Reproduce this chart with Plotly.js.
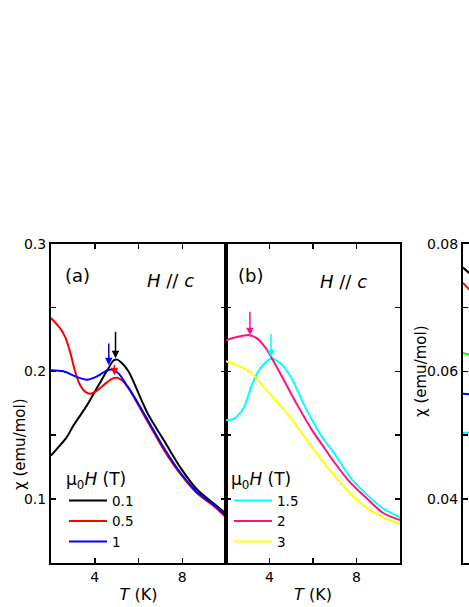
<!DOCTYPE html>
<html>
<head>
<meta charset="utf-8">
<script src="https://cdn.plot.ly/plotly-3.0.1.min.js"></script>
<style>
html,body{margin:0;padding:0;overflow:hidden;background:#fff;}
#chart{width:640px;height:607px;}
</style>
</head>
<body>
<div id="chart"></div>
<script>
// ---- Panel (a): H // c, low fields ----
var a_fields = ['0.1', '0.5', '1'];
var a_colors = ['#000000', '#ff0000', '#0000ff'];
var a_T_01 = [2.0, 2.41, 2.72, 3.03, 3.34, 3.64, 3.95, 4.26, 4.57, 4.87, 5.03, 5.26, 5.56, 6.15, 6.45, 7.16, 7.94, 8.7, 9.47, 10];
var a_chi_01 = [0.134, 0.142, 0.1485, 0.1577, 0.1656, 0.1734, 0.1826, 0.1917, 0.2009, 0.2088, 0.2093, 0.2062, 0.1996, 0.177, 0.166, 0.146, 0.124, 0.107, 0.096, 0.0885];
var a_T_05 = [2.0, 2.41, 2.65, 2.88, 3.11, 3.34, 3.57, 3.8, 4.1, 4.49, 4.8, 5.03, 5.33, 5.64, 6.42, 7.16, 7.94, 8.7, 9.47, 10];
var a_chi_05 = [0.242, 0.234, 0.227, 0.215, 0.1995, 0.189, 0.184, 0.1826, 0.185, 0.1905, 0.1944, 0.195, 0.1917, 0.1842, 0.1605, 0.1385, 0.119, 0.104, 0.094, 0.0855];
var a_T_1 = [2.0, 2.57, 3.18, 3.64, 4.1, 4.57, 4.8, 5.1, 5.41, 5.64, 6.42, 7.16, 7.94, 8.7, 9.47, 10];
var a_chi_1 = [0.201, 0.2002, 0.1957, 0.1936, 0.1962, 0.2009, 0.2015, 0.1983, 0.1905, 0.1848, 0.162, 0.140, 0.120, 0.105, 0.095, 0.087];

// ---- Panel (b): H // c, higher fields ----
var b_fields = ['1.5', '2', '3'];
var b_colors = ['#00ffff', '#ff1080', '#ffff00'];
var b_T_15 = [2.0, 2.37, 2.83, 3.2, 3.6, 4.07, 4.53, 5.0, 5.56, 6.02, 6.48, 6.95, 7.71, 8.5, 9.23, 10];
var b_chi_15 = [0.1617, 0.163, 0.172, 0.190, 0.203, 0.210, 0.206, 0.195, 0.175, 0.160, 0.147, 0.1365, 0.117, 0.103, 0.0925, 0.0855];
var b_T_2 = [2.0, 2.5, 3.06, 3.43, 3.84, 4.12, 4.67, 5.27, 5.92, 6.52, 6.93, 7.71, 8.5, 9.23, 10];
var b_chi_2 = [0.2245, 0.227, 0.2285, 0.226, 0.218, 0.210, 0.193, 0.174, 0.155, 0.140, 0.130, 0.113, 0.100, 0.089, 0.0835];
var b_T_3 = [2.0, 2.5, 3.15, 3.75, 4.35, 5.0, 5.6, 6.2, 6.9, 7.71, 8.5, 9.23, 10];
var b_chi_3 = [0.208, 0.205, 0.199, 0.1875, 0.176, 0.163, 0.149, 0.135, 0.120, 0.1045, 0.0925, 0.0855, 0.0805];

// ---- Panel (c): only its left edge is visible ----
var c_colors = ['#000000', '#ff0000', '#00ff00', '#0000ff', '#00ffff'];
var c_T = [2.0, 2.3, 2.6];
var c_chi_black = [0.0763, 0.0754, 0.0746];
var c_chi_red = [0.0739, 0.0728, 0.0718];
var c_chi_green = [0.0629, 0.0626, 0.0622];
var c_chi_blue = [0.0565, 0.0564, 0.0562];
var c_chi_cyan = [0.0504, 0.0504, 0.0503];

// ---- Arrows marking the transitions ----
var arrow_axis = ['a', 'a', 'a', 'b', 'b'];
var arrow_T = [4.95, 4.64, 4.9, 3.1, 4.07];
var arrow_tail = [0.2324, 0.2231, 0.2065, 0.248, 0.2308];
var arrow_tip = [0.2104, 0.2049, 0.197, 0.2285, 0.2112];
var arrow_color = ['#000000', '#0000ff', '#ff0000', '#ff1080', '#00ffff'];

// ---- Tick labels ----
var xTickVals = [4, 6, 8];
var xTickText = ['4', ' ', '8'];
var yTickVals_ab = [0.1, 0.15, 0.2, 0.25, 0.3];
var yTickText_ab = ['0.1', ' ', '0.2', ' ', '0.3'];
var yTickVals_c = [0.04, 0.05, 0.06, 0.07, 0.08];
var yTickText_c = ['0.04', ' ', '0.06', ' ', '0.08'];

var W = 640, H = 607;
var FONT = 'DejaVu Sans, Liberation Sans, Arial, sans-serif';
function px(x) { return x / W; }
function py(y) { return (H - y) / H; }

var traces = [];
function addLine(x, y, color, name, xa, ya, legend, show) {
  traces.push({
    x: x, y: y, type: 'scatter', mode: 'lines', name: name,
    line: {color: color, width: 2, shape: 'spline', smoothing: 0.8},
    xaxis: xa, yaxis: ya, legend: legend, showlegend: show
  });
}
addLine(a_T_01, a_chi_01, a_colors[0], a_fields[0], 'x', 'y', 'legend', true);
addLine(a_T_05, a_chi_05, a_colors[1], a_fields[1], 'x', 'y', 'legend', true);
addLine(a_T_1, a_chi_1, a_colors[2], a_fields[2], 'x', 'y', 'legend', true);
addLine(b_T_15, b_chi_15, b_colors[0], b_fields[0], 'x2', 'y2', 'legend2', true);
addLine(b_T_2, b_chi_2, b_colors[1], b_fields[1], 'x2', 'y2', 'legend2', true);
addLine(b_T_3, b_chi_3, b_colors[2], b_fields[2], 'x2', 'y2', 'legend2', true);
var cSeries = [c_chi_black, c_chi_red, c_chi_green, c_chi_blue, c_chi_cyan];
for (var i = 0; i < cSeries.length; i++) addLine(c_T, cSeries[i], c_colors[i], 'c' + i, 'x3', 'y3', 'legend', false);

function xAxis(domain, anchor, showTitle) {
  return {
    domain: domain, anchor: anchor, range: [2, 10],
    tickvals: xTickVals, ticktext: xTickText, showticklabels: showTitle,
    ticks: 'inside', ticklen: 5, tickwidth: 1.5, tickcolor: '#000',
    showline: true, linewidth: 2, linecolor: '#000', mirror: 'ticks',
    showgrid: false, zeroline: false,
    tickfont: {size: 14, color: '#000', family: FONT},
    title: showTitle ? {text: '<i>T</i> (K)', font: {size: 16, color: '#000', family: FONT}, standoff: 5} : {text: ''}
  };
}
function yAxis(domain, anchor, range, vals, text, showLabels) {
  return {
    domain: domain, anchor: anchor, range: range,
    tickvals: vals, ticktext: text, showticklabels: showLabels,
    ticks: 'inside', ticklen: 5, tickwidth: 1.5, tickcolor: '#000',
    showline: true, linewidth: 2, linecolor: '#000', mirror: 'ticks',
    showgrid: false, zeroline: false,
    tickfont: {size: 14, color: '#000', family: FONT}
  };
}

var yDom = [py(562.7), py(244)];
var annotations = [];
function note(x, y, text, size, extra) {
  var a = {xref: 'paper', yref: 'paper', x: px(x), y: py(y), text: text, showarrow: false,
    xanchor: 'center', yanchor: 'middle', font: {size: size, color: '#000', family: FONT}};
  for (var k in extra) a[k] = extra[k];
  annotations.push(a);
}
note(77, 275, '(a)', 18);
note(170, 280, '<i>H</i> // <i>c</i>', 18);
note(250, 275, '(b)', 18);
note(343, 281, '<i>H</i> // <i>c</i>', 18);
note(20, 444, 'χ (emu/mol)', 15, {textangle: -90});
note(421, 371, 'χ (emu/mol)', 15, {textangle: -90});

for (var j = 0; j < arrow_T.length; j++) {
  var ax = arrow_axis[j] === 'a' ? 'x' : 'x2';
  var ay = arrow_axis[j] === 'a' ? 'y' : 'y2';
  annotations.push({
    xref: ax, yref: ay, axref: ax, ayref: ay,
    x: arrow_T[j], y: arrow_tip[j], ax: arrow_T[j], ay: arrow_tail[j],
    text: '', showarrow: true, arrowhead: 2, arrowsize: 1, arrowwidth: 1.5,
    arrowcolor: arrow_color[j]
  });
}

var legendCommon = {
  xanchor: 'left', yanchor: 'top', bgcolor: 'rgba(0,0,0,0)', borderwidth: 0,
  font: {size: 13.5, color: '#000', family: FONT}, tracegroupgap: 0, itemwidth: 38,
  title: {text: 'μ<sub>0</sub><i>H</i> (T)', font: {size: 17, color: '#000', family: FONT}}
};
var legend1 = JSON.parse(JSON.stringify(legendCommon));
legend1.x = px(64); legend1.y = py(463);
var legend2 = JSON.parse(JSON.stringify(legendCommon));
legend2.x = px(229); legend2.y = py(463);

var layout = {
  width: W, height: H,
  margin: {l: 0, r: 0, t: 0, b: 0},
  paper_bgcolor: '#fff', plot_bgcolor: 'rgba(0,0,0,0)',
  font: {family: FONT, color: '#000'},
  xaxis: xAxis([px(51), px(226)], 'y', true),
  yaxis: yAxis(yDom, 'x', [0.05, 0.3], yTickVals_ab, yTickText_ab, true),
  xaxis2: xAxis([px(226), px(400)], 'y2', true),
  yaxis2: yAxis(yDom, 'x2', [0.05, 0.3], yTickVals_ab, yTickText_ab, false),
  xaxis3: xAxis([px(463), px(637)], 'y3', false),
  yaxis3: yAxis(yDom, 'x3', [0.03, 0.08], yTickVals_c, yTickText_c, true),
  legend: legend1,
  legend2: legend2,
  annotations: annotations
};

Plotly.newPlot('chart', traces, layout, {displayModeBar: false, staticPlot: true});
</script>
</body>
</html>
